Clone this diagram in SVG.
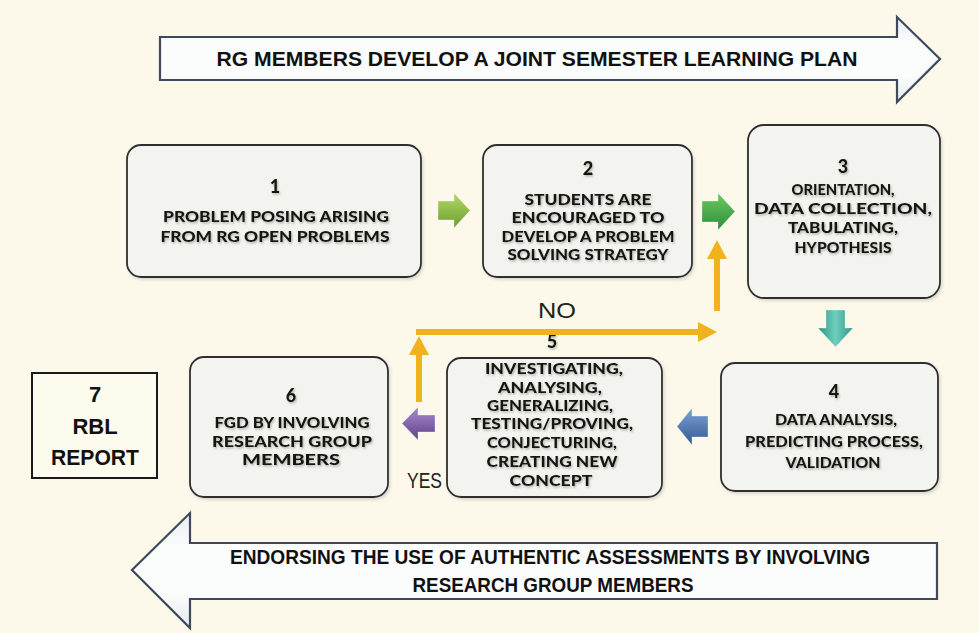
<svg xmlns="http://www.w3.org/2000/svg" width="979" height="633" viewBox="0 0 979 633">
<defs>
<style>
.box{fill:#f3f4ef;stroke:#2f2f2f;stroke-width:1.8}
.bt{font-family:Lato,"Open Sans",sans-serif;font-weight:900;font-size:15.5px;fill:#15120c;text-anchor:middle;filter:url(#ts)}
.bn{font-family:Lato,"Open Sans",sans-serif;font-weight:900;font-size:18px;fill:#15120c;text-anchor:middle;filter:url(#ts)}
.big{fill:url(#bigg);stroke:#3e4a5c;stroke-width:2.2;stroke-linejoin:miter}
.at{font-family:"Liberation Sans",Arial,sans-serif;font-weight:700;font-size:21px;fill:#111;text-anchor:middle}
.lbl{font-family:"Liberation Sans",Arial,sans-serif;font-size:22px;fill:#222}
.r7{font-family:"Liberation Sans",Arial,sans-serif;font-weight:700;font-size:22px;fill:#111;text-anchor:middle}
.orng{fill:none;stroke:#f0b31e;stroke-width:6}
.sa{stroke:#ffffff;stroke-opacity:0.4;stroke-width:0.8}
</style>
<filter id="ts" x="-10%" y="-30%" width="120%" height="170%">
<feDropShadow dx="1" dy="1.5" stdDeviation="0.8" flood-color="#777" flood-opacity="0.55"/>
</filter>
<filter id="bs" x="-5%" y="-5%" width="112%" height="115%">
<feDropShadow dx="1.5" dy="2" stdDeviation="1.5" flood-color="#999" flood-opacity="0.35"/>
</filter>
<linearGradient id="bigg" x1="0" y1="0" x2="0" y2="1">
<stop offset="0" stop-color="#e9eef2"/>
<stop offset="0.3" stop-color="#fbfcfc"/>
<stop offset="0.7" stop-color="#fbfcfc"/>
<stop offset="1" stop-color="#e6ebef"/>
</linearGradient>
<linearGradient id="g1" x1="0" y1="0" x2="0" y2="1"><stop offset="0" stop-color="#b4d967"/><stop offset="1" stop-color="#6d9e2f"/></linearGradient>
<linearGradient id="g2" x1="0" y1="0" x2="0" y2="1"><stop offset="0" stop-color="#6acb5f"/><stop offset="1" stop-color="#2d8d3b"/></linearGradient>
<linearGradient id="g3" x1="0" y1="0" x2="1" y2="0"><stop offset="0" stop-color="#2f9385"/><stop offset="0.5" stop-color="#6fcfbf"/><stop offset="1" stop-color="#2f9385"/></linearGradient>
<linearGradient id="g4" x1="0" y1="0" x2="0" y2="1"><stop offset="0" stop-color="#7fa3d6"/><stop offset="1" stop-color="#345890"/></linearGradient>
<linearGradient id="g5" x1="0" y1="0" x2="0" y2="1"><stop offset="0" stop-color="#a98bd0"/><stop offset="1" stop-color="#5e408c"/></linearGradient>
<marker id="oh" markerUnits="userSpaceOnUse" markerWidth="20" markerHeight="20" refX="0" refY="10" orient="auto">
<path d="M0,0 L19,10 L0,20 Z" fill="#f0b31e"/>
</marker>
</defs>
<rect width="979" height="633" fill="#fcf9ea"/>

<g id="top-arrow">
<path class="big" d="M160,37 L897,37 L897,17 L940,59 L897,102 L897,80 L160,80 Z"/>
<text class="at" x="537" y="66" textLength="641" lengthAdjust="spacingAndGlyphs">RG MEMBERS DEVELOP A JOINT SEMESTER LEARNING PLAN</text>
</g>

<g id="bottom-arrow">
<path class="big" d="M937,543 L190,543 L190,513 L132,570 L190,628 L190,599 L937,599 Z"/>
<text class="at" x="550" y="564" font-size="20" textLength="640" lengthAdjust="spacingAndGlyphs">ENDORSING THE USE OF AUTHENTIC ASSESSMENTS  BY INVOLVING</text>
<text class="at" x="553" y="592" font-size="20" textLength="281" lengthAdjust="spacingAndGlyphs">RESEARCH GROUP MEMBERS</text>
</g>

<g id="node1">
<rect class="box" filter="url(#bs)" x="127" y="145" width="294" height="132" rx="14"/>
<text class="bn" x="275" y="193">1</text>
<text class="bt" x="276" y="222" textLength="226" lengthAdjust="spacingAndGlyphs">PROBLEM POSING ARISING</text>
<text class="bt" x="275" y="242" textLength="229" lengthAdjust="spacingAndGlyphs">FROM RG OPEN PROBLEMS</text>
</g>

<g id="node2">
<rect class="box" filter="url(#bs)" x="483" y="145" width="209" height="132" rx="14"/>
<text class="bn" x="588" y="175">2</text>
<text class="bt" x="588" y="205" textLength="127" lengthAdjust="spacingAndGlyphs">STUDENTS ARE</text>
<text class="bt" x="588" y="223" textLength="153" lengthAdjust="spacingAndGlyphs">ENCOURAGED TO</text>
<text class="bt" x="588" y="242" textLength="173" lengthAdjust="spacingAndGlyphs">DEVELOP A PROBLEM</text>
<text class="bt" x="588" y="260" textLength="161" lengthAdjust="spacingAndGlyphs">SOLVING STRATEGY</text>
</g>

<g id="node3">
<rect class="box" filter="url(#bs)" x="748" y="125" width="192" height="173" rx="16"/>
<text class="bn" x="843" y="173">3</text>
<text class="bt" x="843" y="195" textLength="103" lengthAdjust="spacingAndGlyphs">ORIENTATION,</text>
<text class="bt" x="843" y="214" textLength="178" lengthAdjust="spacingAndGlyphs">DATA COLLECTION,</text>
<text class="bt" x="843" y="233" textLength="110" lengthAdjust="spacingAndGlyphs">TABULATING,</text>
<text class="bt" x="843" y="253" textLength="97" lengthAdjust="spacingAndGlyphs">HYPOTHESIS</text>
</g>

<g id="node4">
<rect class="box" filter="url(#bs)" x="721" y="363" width="217" height="128" rx="14"/>
<text class="bn" x="834" y="398">4</text>
<text class="bt" x="836" y="425" textLength="122" lengthAdjust="spacingAndGlyphs">DATA ANALYSIS,</text>
<text class="bt" x="834" y="447" textLength="178" lengthAdjust="spacingAndGlyphs">PREDICTING PROCESS,</text>
<text class="bt" x="833" y="468" textLength="95" lengthAdjust="spacingAndGlyphs">VALIDATION</text>
</g>

<g id="node5">
<rect class="box" filter="url(#bs)" x="447" y="358" width="215" height="139" rx="14"/>
<text class="bn" x="552" y="348">5</text>
<text class="bt" x="554" y="374" font-size="16.5" textLength="138" lengthAdjust="spacingAndGlyphs">INVESTIGATING,</text>
<text class="bt" x="550" y="393" font-size="16.5" textLength="104" lengthAdjust="spacingAndGlyphs">ANALYSING,</text>
<text class="bt" x="550" y="411" font-size="16.5" textLength="126" lengthAdjust="spacingAndGlyphs">GENERALIZING,</text>
<text class="bt" x="552" y="429" font-size="16.5" textLength="162" lengthAdjust="spacingAndGlyphs">TESTING/PROVING,</text>
<text class="bt" x="552" y="448" font-size="16.5" textLength="130" lengthAdjust="spacingAndGlyphs">CONJECTURING,</text>
<text class="bt" x="552" y="467" font-size="16.5" textLength="131" lengthAdjust="spacingAndGlyphs">CREATING NEW</text>
<text class="bt" x="551" y="486" font-size="16.5" textLength="83" lengthAdjust="spacingAndGlyphs">CONCEPT</text>
</g>

<g id="node6">
<rect class="box" filter="url(#bs)" x="190" y="357" width="198" height="140" rx="14"/>
<text class="bn" x="291" y="402">6</text>
<text class="bt" x="292" y="428" textLength="155" lengthAdjust="spacingAndGlyphs">FGD BY INVOLVING</text>
<text class="bt" x="292" y="447" textLength="160" lengthAdjust="spacingAndGlyphs">RESEARCH GROUP</text>
<text class="bt" x="291" y="465" textLength="98" lengthAdjust="spacingAndGlyphs">MEMBERS</text>
</g>

<g id="node7">
<rect x="32" y="373" width="125" height="105" fill="#fdfbee" stroke="#1a1a1a" stroke-width="2"/>
<text class="r7" x="95" y="402">7</text>
<text class="r7" x="95" y="434">RBL</text>
<text class="r7" x="95" y="465" textLength="88" lengthAdjust="spacingAndGlyphs">REPORT</text>
</g>

<g id="connectors">
<polygon class="sa" fill="url(#g1)" points="438,201 454,201 454,193 470,210.5 454,228 454,220 438,220"/>
<polygon class="sa" fill="url(#g2)" points="702,201 718,201 718,193 735,211.5 718,230 718,222 702,222"/>
<polygon class="sa" fill="url(#g3)" points="826,310 845,310 845,328 853,328 835.5,347 818,328 826,328"/>
<polygon class="sa" fill="url(#g4)" points="708,416 692,416 692,408 677,426.5 692,445 692,437 708,437"/>
<polygon class="sa" fill="url(#g5)" points="435,415 418,415 418,407 402,423.5 418,440 418,432 435,432"/>
<path class="orng" d="M419,402 L419,355" marker-end="url(#oh)"/>
<path class="orng" d="M416,332 L698,332" marker-end="url(#oh)"/>
<path class="orng" d="M717,311 L717,259" marker-end="url(#oh)"/>
<text class="lbl" x="557" y="318" text-anchor="middle" textLength="38" lengthAdjust="spacingAndGlyphs">NO</text>
<text class="lbl" x="407" y="488" textLength="35" lengthAdjust="spacingAndGlyphs">YES</text>
</g>
</svg>
